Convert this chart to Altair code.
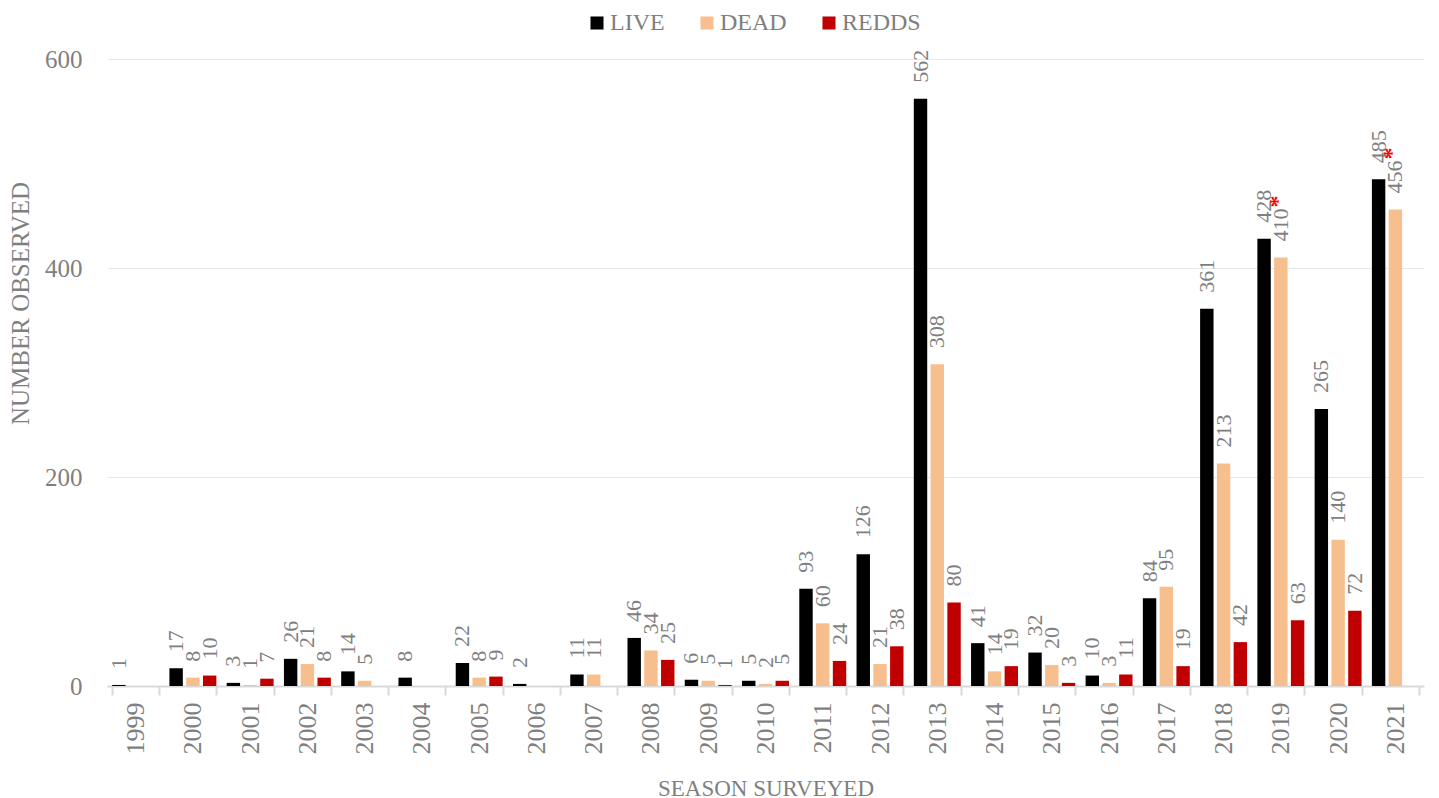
import altair as alt
import pandas as pd

years = ["1999", "2000", "2001", "2002", "2003", "2004", "2005", "2006", "2007", "2008", "2009", "2010",
         "2011", "2012", "2013", "2014", "2015", "2016", "2017", "2018", "2019", "2020", "2021"]
live = [1, 17, 3, 26, 14, 8, 22, 2, 11, 46, 6, 5, 93, 126, 562, 41, 32, 10, 84, 361, 428, 265, 485]
dead = [None, 8, 1, 21, 5, None, 8, None, 11, 34, 5, 2, 60, 21, 308, 14, 20, 3, 95, 213, 410, 140, 456]
redds = [None, 10, 7, 8, None, None, 9, None, None, 25, 1, 5, 24, 38, 80, 19, 3, 11, 19, 42, 63, 72, None]
series = ["LIVE", "DEAD", "REDDS"]
colors = ["#000000", "#F8BF8E", "#C00000"]
starred = [("2019", "DEAD", 410), ("2021", "DEAD", 456)]

rows = []
for i, y in enumerate(years):
    for s, vals in zip(series, [live, dead, redds]):
        v = vals[i]
        if v is not None:
            rows.append({"year": y, "series": s, "value": v})
df = pd.DataFrame(rows)
star_df = pd.DataFrame([{"year": y, "series": s, "value": v} for y, s, v in starred])

FONT = "Liberation Serif"
GRAY = "#7F7F7F"

x = alt.X("year:N", sort=years, title="SEASON SURVEYED",
          scale=alt.Scale(paddingInner=0.18, paddingOuter=0.09),
          axis=alt.Axis(labelAngle=270, labelFontSize=26, labelColor=GRAY, labelFont=FONT,
                        labelPadding=7, titleFontSize=23, titleColor=GRAY, titleFont=FONT,
                        titleFontWeight="normal", titlePadding=23, domainColor="#D9D9D9",
                        domainWidth=2, tickColor="#D9D9D9", tickWidth=2, tickSize=9,
                        tickBand="extent", grid=False))
xo = alt.XOffset("series:N", sort=series, scale=alt.Scale(domain=series, paddingInner=0.2))
y = alt.Y("value:Q", title="NUMBER OBSERVED",
          scale=alt.Scale(domain=[0, 600], nice=False),
          axis=alt.Axis(values=[0, 200, 400, 600], labelFontSize=25, labelColor=GRAY,
                        labelFont=FONT, labelPadding=25, ticks=False, domain=False,
                        gridColor="#E8E8E8", gridWidth=1, titleFontSize=25, titleColor=GRAY,
                        titleFont=FONT, titleFontWeight="normal", titlePadding=11,
                        titleY=244))
color = alt.Color("series:N", sort=series,
                  scale=alt.Scale(domain=series, range=colors),
                  legend=alt.Legend(title=None, orient="none", direction="horizontal",
                                    legendX=478, legendY=-48, symbolType="square",
                                    symbolSize=170, symbolStrokeWidth=0, symbolOpacity=1,
                                    labelFont=FONT, labelFontSize=24, labelColor=GRAY,
                                    columnPadding=30, labelOffset=1))

bars = alt.Chart(df).mark_bar(opacity=1).encode(x=x, xOffset=xo, y=y, color=color)

labels = alt.Chart(df).mark_text(angle=270, align="left", baseline="middle", dx=16,
                                 font=FONT, fontSize=22, color=GRAY).encode(
    x=alt.X("year:N", sort=years), xOffset=alt.XOffset("series:N", sort=series),
    y="value:Q", text="value:Q")

stars = alt.Chart(star_df).mark_text(angle=270, align="left", baseline="middle", dx=50, dy=-3,
                                     font=FONT, fontSize=24, fontWeight="bold",
                                     color="#FF0000", text="*").encode(
    x=alt.X("year:N", sort=years), xOffset=alt.XOffset("series:N", sort=series),
    y="value:Q")

chart = alt.layer(bars, labels, stars).properties(
    width=1317, height=627,
    padding={"left": 0, "top": 3, "right": 5, "bottom": 5}
).configure_view(stroke=None).configure_axis(labelFont=FONT, titleFont=FONT)

chart.save("out.html", embed_options={"renderer": "svg", "actions": False})
